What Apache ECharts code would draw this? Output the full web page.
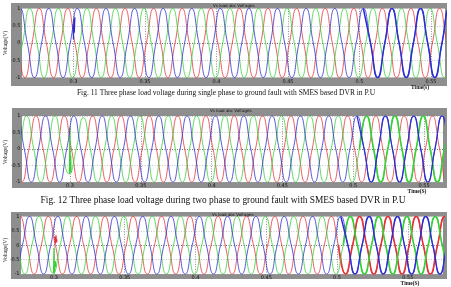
<!DOCTYPE html>
<html>
<head>
<meta charset="utf-8">
<script src="https://cdn.jsdelivr.net/npm/echarts@6/dist/echarts.min.js"></script>
<style>
  html, body { margin: 0; padding: 0; background: #fff; }
  #chart { width: 451px; height: 287px; }
</style>
</head>
<body>
<div id="chart"></div>
<script>
// 50 Hz supply, one period in seconds
const period = 0.02;
const timeTicks = [0.3, 0.35, 0.4, 0.45, 0.5, 0.55];

// time of the first extremum of each phase and its sign
const firstPeakTime = { red: 0.256, blue: 0.2527, green: 0.2594 };
const firstPeakSign = { red: 1, blue: -1, green: -1 };

// half-cycle peak magnitudes (p.u.), 34 half cycles
const fig11Red   = [1,1,1,1,1,1,1,1,1,1,1,1,1,1,1,1,1,1,1,1,1,1,1,1,1,1,1,1,1,1,1,1,1,1];
const fig11Blue  = [1,1,1,1,1,1,1,1,1,1,1,1,1,1,1,1,1,1,1,1,1,1,1,1,1,1,1,1,1,1,1,1,1,1];
const fig11Green = [1,1,1,1,1,1,1,1,1,1,1,1,1,1,1,1,1,1,1,1,1,1,1,1,1,1,1,1,1,1,1,1,1,1];

const fig12Red   = [1,1,1,1,1,1,1,1,1,1,1,1,1,1,1,1,1,1,1,1,1,1,1,1,1,1,1,1,1,1,1,1,1,1];
const fig12Blue  = [1,1,1,1,1,1,1,1,1,1,1,1,1,1,1,1,1,1,1,1,1,1,1,1,1,1,1,1,1,1,1,1,1,1];
const fig12Green = [1,1,1,1,0.75,0.95,1,1,1,1,1,1,1,1,1,1,1,1,1,1,1,1,1,1,1,1,1,1,1,1,1,1,1,1];

const fig13Red   = [1,1,1,1,1,1,1,1,1,1,1,1,1,1,1,1,1,1,1,1,1,1,1,1,1,1,1,1,1,1,1,1,1,1];
const fig13Blue  = [1,1,1,1,1,1,1,1,1,1,1,1,1,1,1,1,1,1,1,1,1,1,1,1,1,1,1,1,1,1,1,1,1,1];
const fig13Green = [1,1,1,1,0.97,1,1,1,1,1,1,1,1,1,1,1,1,1,1,1,1,1,1,1,1,1,1,1,1,1,1,1,1,1];

// switching transients at t = 0.3 s, [time, value]
const fig11BlueSpike  = [[0.2998, 0.55], [0.3, 0.1], [0.3003, 0.7], [0.3006, 0.3], [0.301, 0.75]];
const fig12GreenSpike = [[0.2996, -0.75], [0.2999, 0.65], [0.3002, -0.7], [0.3005, -0.2], [0.3008, -0.72]];
const fig13RedSpike   = [[0.3005, 0.3], [0.301, 0.05], [0.3014, 0.35], [0.3018, 0.1], [0.3022, 0.2]];
const fig13GreenSpike = [[0.2997, -0.97], [0.3, -0.1], [0.3003, -0.98], [0.3009, -0.55], [0.3014, -0.75]];

// phases drawn heavier once the DVR injects, with their line width
const fig11Heavy = { blue: 1.5 };
const fig12Heavy = { green: 1.6, blue: 1.2 };
const fig13Heavy = { red: 1.6, green: 1.6, blue: 1.4 };
const heavyFrom = 0.505;

const captions = [
  'Fig. 11 Three phase load voltage during single phase to ground fault with SMES based DVR in P.U',
  'Fig. 12 Three phase load voltage during two phase to ground fault with SMES based DVR in P.U'
];
const scopeTitle = 'Vs load abc Voltages';

const colors = { red: '#e6333b', green: '#38d038', blue: '#2d2dd2' };

const panels = [
  { waves: { red: fig11Red, green: fig11Green, blue: fig11Blue }, spikes: { blue: fig11BlueSpike }, heavy: fig11Heavy,
    grid: { left: 22, top: 8.5, width: 423, height: 69 }, x: [0.264, 0.5598],
    frame: [11, 3, 436, 83], titleXY: [213, 5.5], ylabelY: 43, timeXY: [420, 88] },
  { waves: { red: fig12Red, green: fig12Green, blue: fig12Blue }, spikes: { green: fig12GreenSpike }, heavy: fig12Heavy,
    grid: { left: 22, top: 116, width: 421, height: 66 }, x: [0.2661, 0.5634],
    frame: [12, 108, 435, 80], titleXY: [210, 111], ylabelY: 152, timeXY: [417, 191.5] },
  { waves: { red: fig13Red, green: fig13Green, blue: fig13Blue }, spikes: { red: fig13RedSpike, green: fig13GreenSpike }, heavy: fig13Heavy,
    grid: { left: 21, top: 216.5, width: 422, height: 57.5 }, x: [0.2767, 0.5749],
    frame: [11, 212, 436, 67], titleXY: [212, 214.5], ylabelY: 250, timeXY: [410, 283.5] }
];

function wavePoints(phase, peaks) {
  const pts = [];
  const t0 = firstPeakTime[phase];
  peaks.forEach((a, i) => {
    const t = t0 + i * period / 2;
    const s = i % 2 === 0 ? firstPeakSign[phase] : -firstPeakSign[phase];
    if (i === 0) pts.push([+(t - period / 4).toFixed(5), 0]);
    pts.push([+t.toFixed(5), s * a]);
    pts.push([+(t + period / 4).toFixed(5), 0]);
  });
  return pts;
}

const grids = [], xAxes = [], yAxes = [], series = [], graphics = [];

panels.forEach((p, i) => {
  grids.push(Object.assign({ show: true, backgroundColor: '#fff', borderWidth: 0 }, p.grid));
  xAxes.push({
    type: 'value', gridIndex: i, min: p.x[0], max: p.x[1],
    axisLine: { show: false },
    axisTick: { show: false, customValues: timeTicks },
    axisLabel: { customValues: timeTicks, fontSize: 5, color: '#111', margin: 1.5, fontFamily: 'DejaVu Sans' },
    splitLine: { show: true, lineStyle: { color: '#666', type: [1, 1.5], width: 0.7 } }
  });
  yAxes.push({
    type: 'value', gridIndex: i, min: -1, max: 1, interval: 0.5,
    axisLine: { show: false }, axisTick: { show: false },
    axisLabel: { fontSize: 5, color: '#111', margin: 1.5, fontFamily: 'DejaVu Sans' },
    splitLine: { show: true, lineStyle: { color: ['#aaa', '#aaa', '#333', '#aaa', '#aaa'], type: [1, 1.5], width: 0.7 } }
  });

  ['red', 'green', 'blue'].forEach(ph => {
    const pts = wavePoints(ph, p.waves[ph]);
    series.push({
      type: 'line', xAxisIndex: i, yAxisIndex: i, data: pts, smooth: 0.55,
      showSymbol: false, silent: true, animation: false,
      lineStyle: { color: colors[ph], width: 0.8 }
    });
    if (p.heavy[ph]) {
      series.push({
        type: 'line', xAxisIndex: i, yAxisIndex: i, smooth: 0.55,
        data: pts.filter(d => d[0] >= heavyFrom - period / 4),
        showSymbol: false, silent: true, animation: false,
        lineStyle: { color: colors[ph], width: p.heavy[ph] }
      });
    }
    if (p.spikes[ph]) {
      series.push({
        type: 'line', xAxisIndex: i, yAxisIndex: i, data: p.spikes[ph],
        showSymbol: false, silent: true, animation: false,
        lineStyle: { color: colors[ph], width: 1.2 }
      });
    }
  });

  const [fx, fy, fw, fh] = p.frame;
  graphics.push({ type: 'rect', shape: { x: fx, y: fy, width: fw, height: fh }, style: { fill: '#8e8e8e' }, z: -10, silent: true });
  graphics.push({ type: 'text', x: p.titleXY[0], y: p.titleXY[1], z: 10,
    style: { text: scopeTitle, font: '4px "DejaVu Sans"', fill: '#111', verticalAlign: 'middle' } });
  graphics.push({ type: 'text', x: 6, y: p.ylabelY, rotation: Math.PI / 2, z: 10,
    style: { text: 'Voltage(V)', font: '5.5px "Liberation Serif"', fill: '#111', align: 'center', verticalAlign: 'middle' } });
  graphics.push({ type: 'text', x: p.timeXY[0], y: p.timeXY[1], z: 10,
    style: { text: i === 0 ? 'Time(s)' : 'Time(S)', font: 'bold 5.5px "Liberation Serif"', fill: '#111', align: 'center', verticalAlign: 'middle' } });
});

graphics.push({ type: 'text', x: 226, y: 93, z: 10,
  style: { text: captions[0], font: '7.5px "Liberation Serif"', fill: '#111', align: 'center', verticalAlign: 'middle' } });
graphics.push({ type: 'text', x: 223, y: 200.5, z: 10,
  style: { text: captions[1], font: '9.4px "Liberation Serif"', fill: '#111', align: 'center', verticalAlign: 'middle' } });

const chart = echarts.init(document.getElementById('chart'), null, { renderer: 'canvas' });
chart.setOption({
  animation: false,
  grid: grids,
  xAxis: xAxes,
  yAxis: yAxes,
  series: series,
  graphic: graphics
});
</script>
</body>
</html>
